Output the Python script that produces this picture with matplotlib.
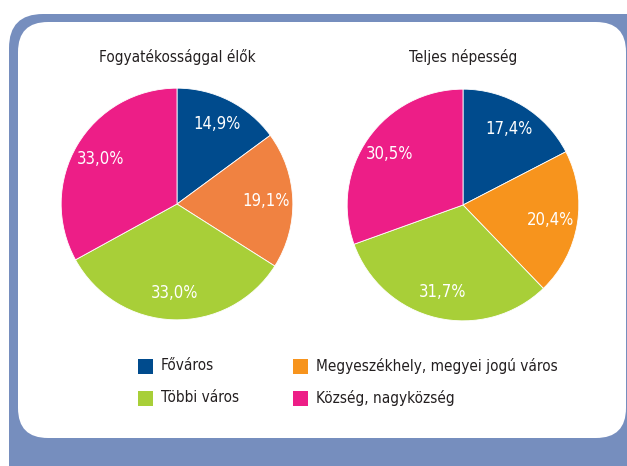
import matplotlib
matplotlib.use("Agg")
import matplotlib.pyplot as plt
from matplotlib.patches import FancyBboxPatch, Rectangle

# ── data ─────────────────────────────────────────────────────────────────────
categories = ["Főváros", "Megyeszékhely, megyei jogú város",
              "Többi város", "Község, nagyközség"]
disabled_vals = [14.9, 19.1, 33.0, 33.0]
total_vals = [17.4, 20.4, 31.7, 30.5]
titles = ["Fogyatékossággal élők", "Teljes népesség"]

colors_left = ["#004B8D", "#F08241", "#A8CF38", "#ED1E87"]
colors_right = ["#004B8D", "#F7941D", "#A8CF38", "#ED1E87"]
legend_colors = ["#004B8D", "#F7941D", "#A8CF38", "#ED1E87"]

FONT = dict(family=["DejaVu Sans"], stretch="condensed")
TXT = "#231F20"
FRAME = "#768EBE"

W, H = 627, 466
fig = plt.figure(figsize=(W / 100, H / 100), dpi=100)
fig.patch.set_facecolor("white")


def fx(px):
    return px / W


def fy(py):
    return 1 - py / H


# ── frame + white panel (background axes in pixel coords) ────────────────────
bg = fig.add_axes([0, 0, 1, 1], zorder=-1)
bg.set_xlim(0, W)
bg.set_ylim(H, 0)
bg.axis("off")
bg.add_patch(FancyBboxPatch((9, 14), 660, 490,
                            boxstyle="round,pad=0,rounding_size=34",
                            facecolor=FRAME, edgecolor="none"))
bg.add_patch(FancyBboxPatch((18, 22), 608, 416,
                            boxstyle="round,pad=0,rounding_size=30",
                            facecolor="white", edgecolor="none"))


# ── pies ─────────────────────────────────────────────────────────────────────
def draw_pie(cx, cy, r, vals, cols, title):
    ax = fig.add_axes([fx(cx - r), fy(cy + r), 2 * r / W, 2 * r / H])
    ax.pie(vals, colors=cols, startangle=90, counterclock=False, radius=1,
           autopct=lambda p: f"{p:.1f}%".replace(".", ","), pctdistance=0.77,
           wedgeprops=dict(edgecolor="white", linewidth=0.6),
           textprops=dict(color="white", fontsize=12, **FONT))
    ax.set_xlim(-1.01, 1.01)
    ax.set_ylim(-1.01, 1.01)
    ax.axis("off")
    bg.text(cx, 57, title, ha="center", va="center",
            fontsize=11, color=TXT, **FONT)


draw_pie(177, 204, 117, disabled_vals, colors_left, titles[0])
draw_pie(463, 205, 117, total_vals, colors_right, titles[1])

# ── legend ───────────────────────────────────────────────────────────────────
legend_pos = [(138, 366), (293, 366), (138, 398), (293, 398)]
for (lx, ly), lab, col in zip(legend_pos, categories, legend_colors):
    bg.add_patch(Rectangle((lx, ly - 7.5), 15, 15,
                           facecolor=col, edgecolor="none"))
    bg.text(lx + 23, ly, lab, ha="left", va="center",
            fontsize=11, color=TXT, **FONT)

fig.savefig("out.png", dpi=100)
